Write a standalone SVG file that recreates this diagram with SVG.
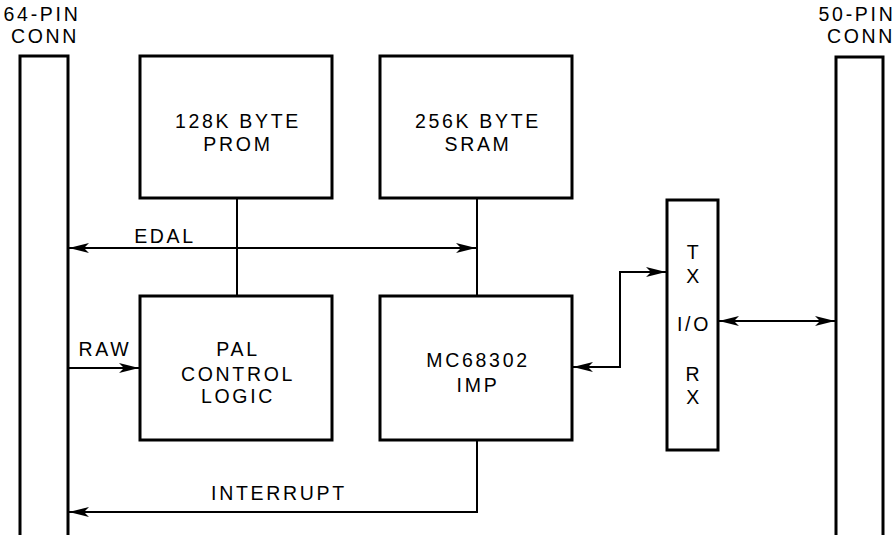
<svg xmlns="http://www.w3.org/2000/svg" width="895" height="535" viewBox="0 0 895 535">
<style>
.box{fill:#fff;stroke:#000;stroke-width:3}
.ln{fill:none;stroke:#000;stroke-width:2}
text{font-family:"Liberation Sans",Arial,sans-serif;font-size:19.5px;fill:#000;letter-spacing:2.7px;text-anchor:middle}
</style>
<defs>
<marker id="ah" viewBox="0 0 20 10" refX="20" refY="5" markerWidth="20" markerHeight="10" markerUnits="userSpaceOnUse" orient="auto-start-reverse">
<path d="M0,0 L20,5 L0,10 L5,5 Z" fill="#000"/>
</marker>
</defs>
<g id="conn64"><rect class="box" x="20" y="56" width="48" height="490"/><text x="42" y="21">64-PIN</text><text x="45" y="43">CONN</text></g>
<g id="conn50"><rect class="box" x="836" y="57" width="47" height="490"/><text x="857" y="21">50-PIN</text><text x="861" y="43">CONN</text></g>
<g id="prom"><rect class="box" x="140" y="56" width="192" height="142"/><text x="238" y="128">128K BYTE</text><text x="238" y="151">PROM</text></g>
<g id="sram"><rect class="box" x="380" y="56" width="192" height="142"/><text x="478" y="128">256K BYTE</text><text x="478" y="151">SRAM</text></g>
<g id="pal"><rect class="box" x="140" y="296" width="192" height="144"/><text x="238" y="356">PAL</text><text x="238" y="381">CONTROL</text><text x="238" y="403">LOGIC</text></g>
<g id="imp"><rect class="box" x="380" y="296" width="192" height="144"/><text x="478" y="367">MC68302</text><text x="478" y="392">IMP</text></g>
<g id="io"><rect class="box" x="667" y="200" width="51" height="250"/><text x="694" y="259">T</text><text x="694" y="283">X</text><text x="694" y="331">I/O</text><text x="694" y="381">R</text><text x="694" y="404">X</text></g>
<g id="connectors">
<line class="ln" x1="237" y1="198" x2="237" y2="296"/>
<line class="ln" x1="477" y1="198" x2="477" y2="296"/>
<line class="ln" x1="69" y1="248" x2="476" y2="248" marker-start="url(#ah)" marker-end="url(#ah)"/>
<line class="ln" x1="69" y1="368" x2="139" y2="368" marker-end="url(#ah)"/>
<polyline class="ln" points="573,367 620,367 620,272 666,272" marker-start="url(#ah)" marker-end="url(#ah)"/>
<line class="ln" x1="719" y1="321" x2="835" y2="321" marker-start="url(#ah)" marker-end="url(#ah)"/>
<polyline class="ln" points="477,440 477,512 69,512" marker-end="url(#ah)"/>
<text x="165" y="243">EDAL</text>
<text x="105" y="356">RAW</text>
<text x="279" y="500">INTERRUPT</text>
</g>
</svg>
